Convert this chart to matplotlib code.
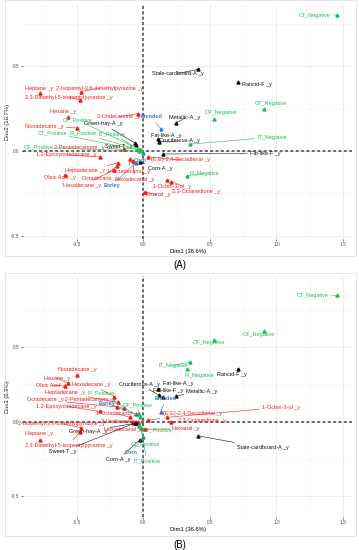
import matplotlib.pyplot as plt
from matplotlib.patches import Rectangle
from matplotlib.ticker import MultipleLocator

plt.rcParams['font.family'] = ['Liberation Sans', 'DejaVu Sans']

# variables shown in the biplots
names = [
    "Heptane _y", "2-Isopentyl-3,6-dimethylpyrazine _y", "2,3-Dimethyl-5-isopentylpyrazine _y",
    "Hexane _y", "Nonadecane _y", "Oleic Acid _y", "Hexadecane _y", "Heptadecane _y",
    "Octadecane _y", "2-Pentadecanone _y", "1,2-Epoxyoctadecane _y", "1-Octadecanol _y",
    "Hexadecanal _y", "2-Undecanone _y", "(E,E)-2,4-Decadienal _y", "1-Octen-3-ol _y",
    "2,3-Octanedione _y", "Hexanal _y",
    "Stale-cardboard-A _y", "Rancid-F _y", "Metallic-A _y", "Green-hay-A _y", "Fat-like-A _y",
    "Cruciferous-A _y", "Fat-like-F _y", "Sweet-T _y", "Corn-A _y",
    "CT_Negative", "OT_Negative", "OF_Negative", "IT_Negative", "FI_Negative",
    "CT_Positive", "FI_Positive", "IT_Positive", "OF_Positive", "OT_Positive",
    "Blended", "Barley", "Corn",
]
dim1 = [-0.78, -0.47, -0.48, -0.57, -0.50, -0.59, -0.22, -0.19, -0.20, -0.15, -0.33, -0.10,
        -0.08, -0.04, 0.034, 0.18, 0.21, 0.01,
        0.41, 0.71, 0.245, -0.064, 0.11, 0.115, 0.147, -0.056, -0.026,
        1.455, 0.91, 0.53, 0.35, 0.33, -0.03, -0.025, -0.02, -0.03, -0.03,
        0.13, -0.06, 0.0]
dim2 = [0.34, 0.35, 0.30, 0.20, 0.135, -0.14, -0.11, -0.07, -0.09, 0.01, -0.035, -0.05,
        -0.06, 0.22, -0.035, -0.17, -0.18, -0.24,
        0.48, 0.405, 0.165, 0.047, 0.07, 0.053, -0.018, 0.035, -0.065,
        0.80, 0.25, 0.19, 0.04, -0.145, 0.006, 0.004, 0.003, -0.002, 0.01,
        0.13, -0.07, -0.01]
dim3 = [-0.12, -0.04, -0.07, 0.26, 0.315, 0.24, 0.17, 0.13, 0.10, 0.09, 0.07, 0.03,
        -0.01, 0.0, 0.01, 0.03, 0.0, -0.05,
        -0.094, 0.356, 0.175, -0.01, 0.22, 0.18, 0.17, -0.005, -0.12,
        0.85, 0.61, 0.55, 0.40, 0.356, -0.02, 0.03, -0.04, 0.05, -0.03,
        0.067, 0.05, -0.10]
groups = ["volatile"] * 18 + ["sensory"] * 9 + ["consumer"] * 10 + ["sample"] * 3

COLORS = {"volatile": "#f21c1c", "sensory": "#111111", "consumer": "#1fbf55", "sample": "#3c7fc0"}

# label offsets (pixels) mimicking the repelled labels
off_a = [(-1, 5), (19, 3.5), (-11, 3), (-5, 5), (-33, 2), (-5, -3), (-32, -16), (-33, -8),
         (-17, -12), (-44, 2), (-33, 2), (-2, -12), (2, -18), (-19, -3), (32, -3), (5, -7),
         (25, -10), (12, -3),
         (-20, -4), (19, -2), (9, 5), (-32, 19), (8, 4), (21, 1), (102, 1), (-17, -1), (20, -6),
         (-22, 0), (6, 5), (7, 6), (82, 7), (17, 2), (-87, 17), (-57, 17), (-29, 17), (-101, 4),
         (-62, 29),
         (-9, 12), (-24, -23), (-3, -8)]
off_b = [(-1, 6), (-19, 4), (-11, -13), (-11, 5), (0, 5), (-13, 1), (-23, 12), (-53, 10),
         (-72, 7), (-33, 9), (-33, 5), (-13, 3.5), (-9, -6.5), (-15, 0), (44, 6.5), (114, 10),
         (31, 1), (41, 0.5),
         (65, -12), (-6, -6), (26, 4), (-47, -8), (20, 6), (-19, 11), (5, 6), (-73, -29),
         (-22, -20),
         (-24, 0), (-6, -3), (-5, -3), (-17, -3), (12, -7), (6, -19), (-39, 24), (6, -33),
         (-2, 10), (18, -3.5),
         (5, 13), (-29, 11), (-12, -16)]

XLIM = (-0.906, 1.568)

fig = plt.figure(figsize=(3.59, 5.5), dpi=100)

# faint frames around each sub-figure
for y0, h in [(550 - 256, 256), (550 - 536, 263)]:
    fig.patches.append(Rectangle((5 / 359, y0 / 550), 351 / 359, h / 550, transform=fig.transFigure,
                                 fill=False, edgecolor="#e3e3e3", lw=0.6))


def draw_panel(ax, ys, offsets, ylim, ylabel):
    ax.set_xlim(XLIM)
    ax.set_ylim(ylim)
    ax.set_xticks([-0.5, 0.0, 0.5, 1.0, 1.5])
    ax.set_xticklabels(["-0.5", "0.0", "0.5", "1.0", "1.5"])
    ax.set_yticks([-0.5, 0.0, 0.5])
    ax.set_yticklabels(["-0.5", "0.0", "0.5"])
    ax.xaxis.set_minor_locator(MultipleLocator(0.25))
    ax.yaxis.set_minor_locator(MultipleLocator(0.25))
    ax.grid(which="major", color="#ebebeb", lw=0.6)
    ax.grid(which="minor", color="#f3f3f3", lw=0.4)
    ax.set_axisbelow(True)
    for s in ax.spines.values():
        s.set_visible(False)
    ax.tick_params(which="major", labelsize=3.4, colors="#4d4d4d", length=1.5, width=0.5, pad=1)
    ax.tick_params(which="minor", length=0)
    ax.set_xlabel("Dim1 (36.6%)", fontsize=4.2, labelpad=1)
    ax.set_ylabel(ylabel, fontsize=4.2, labelpad=1)
    ax.axhline(0, color="#444444", lw=1.1, ls=(0, (2, 1.5)), zorder=2)
    ax.axvline(0, color="#444444", lw=1.1, ls=(0, (2, 1.5)), zorder=2)

    for name, x, y, g, (dx, dy) in zip(names, dim1, ys, groups, offsets):
        c = COLORS[g]
        ax.plot(x, y, marker="^", ms=2.2, color=c, ls="none", zorder=4)
        far = (dx ** 2 + dy ** 2) ** 0.5 > 10
        ax.annotate(name, (x, y), xytext=(dx, dy), textcoords="offset pixels",
                    ha="center", va="center", fontsize=4.0, color=c,
                    fontweight="bold" if g == "sample" else "normal",
                    arrowprops=dict(arrowstyle="-", color=c, lw=0.4, shrinkA=0, shrinkB=0) if far else None,
                    zorder=5)


ax_a = fig.add_axes([23 / 359, 1 - 239 / 550, 329 / 359, 235 / 550])
draw_panel(ax_a, dim2, off_a, (-0.518, 0.865), "Dim2 (16.7%)")

ax_b = fig.add_axes([23 / 359, 1 - 517 / 550, 329 / 359, 241 / 550])
draw_panel(ax_b, dim3, off_b, (-0.64, 0.98), "Dim3 (8.9%)")

fig.text(180 / 359, 1 - 265 / 550, "(A)", ha="center", va="center", fontsize=7)
fig.text(180 / 359, 1 - 545 / 550, "(B)", ha="center", va="center", fontsize=7)

fig.savefig("out.png", dpi=100)
